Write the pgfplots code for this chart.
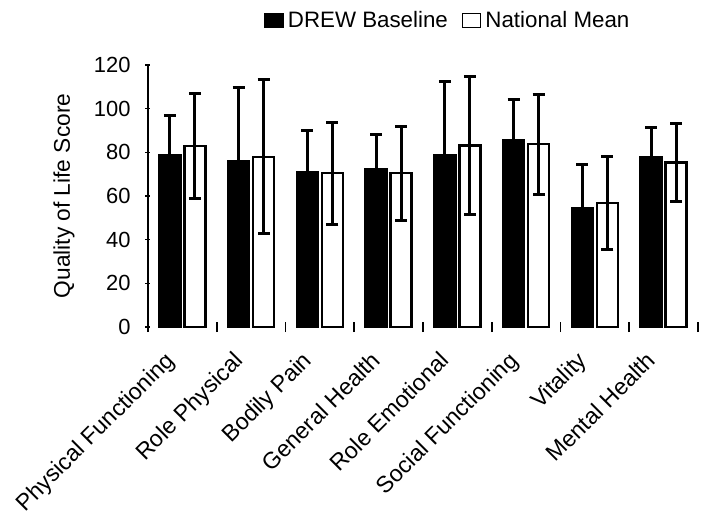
\documentclass[border=0pt]{standalone}
\usepackage{pgfplots}
\pgfplotsset{compat=1.18}
\usepackage{fontspec}
\setmainfont{Liberation Sans}
\pgfplotsset{
    errs/.style={
        error bars/y dir=both, error bars/y explicit,
        error bars/error bar style={line width=1.5bp, black},
        error bars/error mark options={rotate=90, mark size=3bp, line width=1.5bp, black},
    },
}
\begin{document}
\begin{tikzpicture}
\begin{axis}[
    at={(0,0)}, anchor=south west,
    width=275bp, height=131bp, scale only axis,
    ybar, bar width=10.5bp,
    xmin=0.5, xmax=8.5, ymin=0, ymax=120,
    ytick={0,20,...,120},
    xtick={1,...,8},
    xticklabels={Physical Functioning, Role Physical, Bodily Pain, General Health,
        Role Emotional, Social Functioning, Vitality, Mental Health},
    minor xtick={0.5,1.5,...,8.5},
    major tick length=2.5bp, minor tick length=5bp,
    major x tick style={draw=none},
    tick align=outside,
    axis x line=bottom, axis y line=left,
    x axis line style={draw=none},
    y axis line style={-, line width=0.8bp},
    every tick/.style={black, line width=0.8bp},
    font=\fontsize{11}{13}\selectfont,
    /pgf/number format/assume math mode=true,
    yticklabel style={xshift=-4bp},
    % shifts are taken in the rotated frame
    xticklabel style={rotate=45, anchor=north east, inner sep=1bp, xshift=-12.8bp, yshift=0.5bp,
        font=\fontsize{11.6}{13}\selectfont},
    ylabel={Quality of Life Score},
    every axis y label/.style={at={(rel axis cs:0,0.5)}, xshift=-42bp, rotate=90, anchor=center,
        font=\fontsize{11.4}{13}\selectfont},
    legend style={at={(0.547,1.170)}, anchor=center, draw=none, legend columns=-1,
        font=\fontsize{11.2}{13}\selectfont,
        /tikz/every odd column/.append style={column sep=0bp},
        /tikz/every even column/.append style={column sep=5bp}},
    legend image code/.code={\draw[#1, line width=0.8bp] (0bp,-3.5bp) rectangle (9bp,3.5bp);},
]
\addplot[fill=black, draw=black, line width=1.2bp, errs] coordinates {
    (1,78.6) +- (0,18.2)
    (2,76.0) +- (0,33.8)
    (3,70.9) +- (0,19.3)
    (4,72.4) +- (0,15.6)
    (5,78.8) +- (0,33.6)
    (6,85.4) +- (0,19.0)
    (7,54.4) +- (0,20.0)
    (8,77.7) +- (0,13.8)
};
\addplot[fill=white, draw=black, line width=1.2bp, errs] coordinates {
    (1,82.9) +- (0,24.0)
    (2,78.0) +- (0,35.2)
    (3,70.4) +- (0,23.4)
    (4,70.4) +- (0,21.6)
    (5,83.1) +- (0,31.8)
    (6,83.7) +- (0,23.0)
    (7,56.9) +- (0,21.2)
    (8,75.3) +- (0,17.8)
};
\legend{DREW Baseline, National Mean}
\end{axis}
\pgfresetboundingbox
\path (-74bp,-97.5bp) rectangle (283bp,163.5bp);
\end{tikzpicture}
\end{document}
